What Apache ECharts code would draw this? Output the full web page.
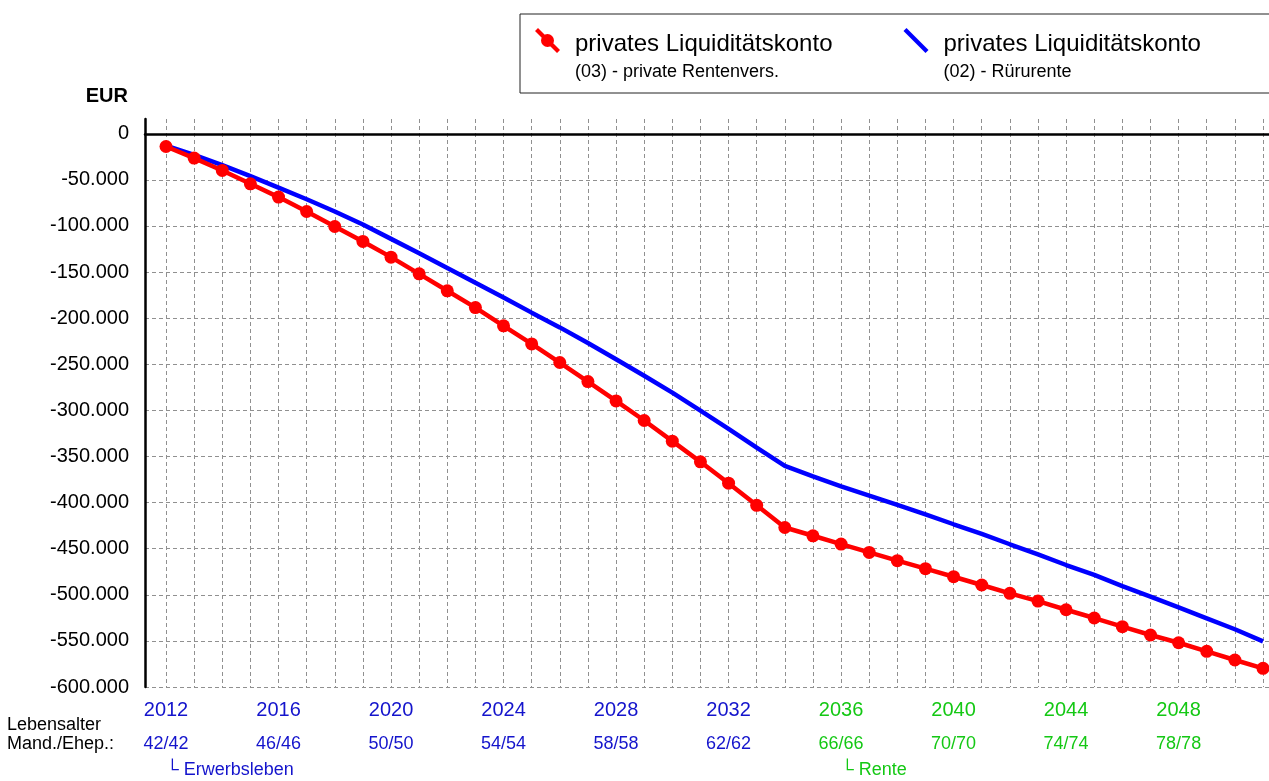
<!DOCTYPE html>
<html><head><meta charset="utf-8">
<script src="https://cdn.jsdelivr.net/npm/echarts@6/dist/echarts.min.js"></script>
<style>html,body{margin:0;padding:0;background:#fff}#c{width:1269px;height:781px}</style>
</head><body><div id="c"></div>
<script>
// ---- data ----
const years = [2012,2013,2014,2015,2016,2017,2018,2019,2020,2021,2022,2023,2024,2025,2026,2027,2028,2029,2030,2031,
               2032,2033,2034,2035,2036,2037,2038,2039,2040,2041,2042,2043,2044,2045,2046,2047,2048,2049,2050,2051];
const rentenversValues = [-13800,-26400,-39800,-54300,-68700,-84300,-100600,-116800,-133800,-151900,
  -170300,-188500,-208300,-227900,-248100,-268800,-289700,-311000,-333400,-355800,
  -379000,-403000,-427000,-436000,-445000,-454000,-463000,-471700,-480400,-489400,
  -498400,-506800,-516200,-525200,-534600,-543600,-552000,-561300,-570700,-579800];
const ruerupValues = [-13000,-23000,-34000,-46000,-58500,-71000,-84300,-98500,-114000,-129500,
  -145500,-161500,-177500,-194000,-210000,-227000,-244500,-262500,-280700,-300300,
  -320000,-340500,-360200,-371500,-382300,-392500,-402600,-412700,-423500,-434000,
  -445200,-456100,-467700,-478500,-490500,-502000,-513600,-525500,-537400,-550500];
const yearTickLabels = ['2012','2016','2020','2024','2028','2032','2036','2040','2044','2048'];
const ageTickLabels = ['42/42','46/46','50/50','54/54','58/58','62/62','66/66','70/70','74/74','78/78'];
const phaseYears = [2012, 2036];
const phaseLabels = ['└ Erwerbsleben', '└ Rente'];
const nameRentenvers = 'privates Liquiditätskonto\n(03) - private Rentenvers.';
const nameRuerup = 'privates Liquiditätskonto\n(02) - Rürurente';
const yMin = -600000, yMax = 16000, yStep = 50000;

// ---- styles ----
const FONT = "'Liberation Sans', Arial, sans-serif";
const BLUE_T = '#1414cc', GREEN_T = '#14c814';
const gridLine = { color: '#909090', width: 1, type: [4, 3] };
function fmt(v) {
  if (v > 0) return '';
  const s = Math.abs(v).toString().replace(/\B(?=(\d{3})+(?!\d))/g, '.');
  return (v < 0 ? '-' : '') + s;
}
const retirementYear = phaseYears[1];
const redIcon = 'path://M0,3 L3,0 L25,22 L22,25 Z M19,12.5 A6.5,6.5 0 1,1 6,12.5 A6.5,6.5 0 1,1 19,12.5 Z M35,60 L35,60';
const blueIcon = 'path://M0,3 L3,0 L25,22 L22,25 Z M35,60 L35,60';

const chart = echarts.init(document.getElementById('c'), null, { renderer: 'canvas' });
const yearsAxisBase = {
  type: 'value', gridIndex: 1, min: years[0], max: years[years.length - 1], interval: 1,
  position: 'bottom', axisTick: { show: false }, axisLine: { show: false }
};
chart.setOption({
  animation: false,
  backgroundColor: '#fff',
  textStyle: { fontFamily: FONT },
  grid: [
    { left: 145, right: 0, top: 119, bottom: 94, outerBoundsMode: 'none' },
    { left: 166, right: 6, top: 119, bottom: 94, outerBoundsMode: 'none' }
  ],
  legend: {
    left: 520, top: 14, width: 820, orient: 'horizontal',
    padding: [14, 80, 5, 15], itemGap: 71, itemWidth: 35, itemHeight: 60,
    borderColor: '#222', borderWidth: 1,
    selectedMode: false,
    data: [
      { name: nameRentenvers, icon: redIcon, itemStyle: { color: '#ff0000', borderWidth: 0 } },
      { name: nameRuerup, icon: blueIcon, itemStyle: { color: '#0000ff', borderWidth: 0 } }
    ],
    formatter: n => { const p = n.split('\n'); return '{a|' + p[0] + '}\n{b|' + p[1] + '}'; },
    textStyle: { rich: {
      a: { fontSize: 24, lineHeight: 28, color: '#000', fontFamily: FONT },
      b: { fontSize: 18, lineHeight: 28, color: '#000', fontFamily: FONT }
    } }
  },
  xAxis: [
    { type: 'value', gridIndex: 0, min: 0, max: 1, position: 'bottom',
      axisLine: { show: true, onZero: true, lineStyle: { color: '#000', width: 2.5 } },
      axisTick: { show: false }, axisLabel: { show: false }, splitLine: { show: false } },
    Object.assign({}, yearsAxisBase, {
      splitLine: { show: true, lineStyle: gridLine },
      axisLabel: {
        margin: 13,
        formatter: v => { const i = yearTickLabels.indexOf(String(v)); if (i < 0) return '';
          return '{' + (v >= retirementYear ? 'g' : 'b') + '|' + yearTickLabels[i] + '}'; },
        rich: { b: { color: BLUE_T, fontSize: 20, lineHeight: 20, fontFamily: FONT },
                g: { color: GREEN_T, fontSize: 20, lineHeight: 20, fontFamily: FONT } }
      }
    }),
    Object.assign({}, yearsAxisBase, {
      splitLine: { show: false },
      axisLabel: {
        margin: 48,
        formatter: v => { const i = yearTickLabels.indexOf(String(v)); if (i < 0) return '';
          return '{' + (v >= retirementYear ? 'g' : 'b') + '|' + ageTickLabels[i] + '}'; },
        rich: { b: { color: BLUE_T, fontSize: 18, lineHeight: 18, fontFamily: FONT },
                g: { color: GREEN_T, fontSize: 18, lineHeight: 18, fontFamily: FONT } }
      }
    }),
    Object.assign({}, yearsAxisBase, {
      splitLine: { show: false },
      axisLabel: {
        margin: 74, align: 'left',
        formatter: v => { const i = phaseYears.indexOf(v); if (i < 0) return '';
          return '{' + (v >= retirementYear ? 'g' : 'b') + '|' + phaseLabels[i] + '}'; },
        rich: { b: { color: BLUE_T, fontSize: 18, lineHeight: 18, fontFamily: FONT },
                g: { color: GREEN_T, fontSize: 18, lineHeight: 18, fontFamily: FONT } }
      }
    })
  ],
  yAxis: [
    { type: 'value', gridIndex: 0, min: yMin, max: yMax, interval: yStep,
      name: 'EUR', nameLocation: 'end', nameGap: 23,
      nameTextStyle: { fontWeight: 'bold', fontSize: 20, color: '#000', align: 'right', verticalAlign: 'middle', padding: [0, 17, 0, 0], fontFamily: FONT },
      axisLine: { show: true, lineStyle: { color: '#000', width: 2.5 } },
      axisTick: { show: false },
      axisLabel: { margin: 16, fontSize: 20, color: '#000', fontFamily: FONT, formatter: fmt, showMaxLabel: false },
      splitLine: { show: true, showMaxLine: false, lineStyle: gridLine } },
    { type: 'value', gridIndex: 1, min: yMin, max: yMax, show: false, splitLine: { show: false } }
  ],
  graphic: [
    { type: 'text', left: 7, top: 716, style: { text: 'Lebensalter', fontSize: 18, fontFamily: FONT, fill: '#000' } },
    { type: 'text', left: 7, top: 735, style: { text: 'Mand./Ehep.:', fontSize: 18, fontFamily: FONT, fill: '#000' } }
  ],
  series: [
    { name: nameRuerup, type: 'line', xAxisIndex: 1, yAxisIndex: 1,
      data: years.map((y, i) => [y, ruerupValues[i]]),
      symbol: 'none', color: '#0000ff', lineStyle: { color: '#0000ff', width: 4.5 } },
    { name: nameRentenvers, type: 'line', xAxisIndex: 1, yAxisIndex: 1,
      data: years.map((y, i) => [y, rentenversValues[i]]),
      symbol: 'circle', symbolSize: 13, color: '#ff0000',
      itemStyle: { color: '#ff0000' }, lineStyle: { color: '#ff0000', width: 4.5 } }
  ]
});
</script></body></html>
